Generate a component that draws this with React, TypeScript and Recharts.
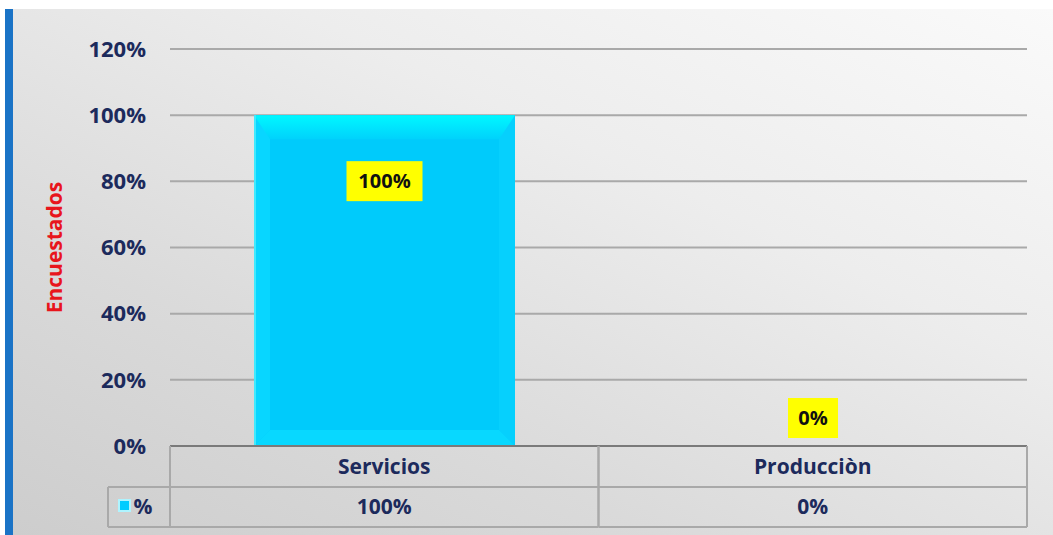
import { BarChart, Bar, XAxis, YAxis, CartesianGrid, LabelList } from 'recharts'

const categories = ['Servicios', 'Producciòn']
const values = [1, 0]
const yTicks = [0, 0.2, 0.4, 0.6, 0.8, 1, 1.2]
const seriesName = '%'

const data = categories.map((c, i) => ({ name: c, value: values[i] }))

const W = 1053
const H = 535
const margin = { top: 49, right: 26, bottom: 8, left: 0 }
const yAxisWidth = 170
const bandW = (W - margin.left - margin.right - yAxisWidth) / categories.length
const font = '"Open Sans", Lato, sans-serif'
const navy = '#1c2a5c'
const lineGray = '#a9a9a9'

const pct = (v: number) => `${Math.round(v * 100)}%`

function TableTick(props: any) {
  const { x, y, payload, index } = props
  const v = data.find((d) => d.name === payload.value)?.value ?? 0
  const left = x - bandW / 2
  return (
    <g>
      <line x1={left} y1={y} x2={left} y2={y + 81} stroke={lineGray} strokeWidth={2} />
      <line x1={left + bandW} y1={y} x2={left + bandW} y2={y + 81} stroke={lineGray} strokeWidth={2} />
      <line x1={left} y1={y + 41} x2={left + bandW} y2={y + 41} stroke={lineGray} strokeWidth={2} />
      <line x1={left} y1={y + 81} x2={left + bandW} y2={y + 81} stroke={lineGray} strokeWidth={2} />
      <text x={x} y={y + 28} textAnchor="middle" fontFamily={font} fontWeight="bold" fontSize={21} fill={navy}>
        {payload.value}
      </text>
      <text x={x} y={y + 68} textAnchor="middle" fontFamily={font} fontWeight="bold" fontSize={21} fill={navy}>
        {pct(v)}
      </text>
      {index === 0 && (
        <g>
          <line x1={left - 62} y1={y + 41} x2={left} y2={y + 41} stroke={lineGray} strokeWidth={2} />
          <line x1={left - 62} y1={y + 81} x2={left} y2={y + 81} stroke={lineGray} strokeWidth={2} />
          <line x1={left - 62} y1={y + 41} x2={left - 62} y2={y + 81} stroke={lineGray} strokeWidth={2} />
          <rect x={left - 51} y={y + 54} width={11} height={11} fill="#00ccff" stroke="#aef4ff" strokeWidth={2} />
          <text x={left - 27} y={y + 68} textAnchor="middle" fontFamily={font} fontWeight="bold" fontSize={21} fill={navy}>
            {seriesName}
          </text>
        </g>
      )}
    </g>
  )
}

function BevelBar(props: any) {
  const { x, y, width, height } = props
  if (!height || height <= 0) return <g />
  const b = 16
  return (
    <g>
      <defs>
        <linearGradient id="bevelTop" x1="0" y1="0" x2="0" y2="1">
          <stop offset="0%" stopColor="#00f8ff" />
          <stop offset="100%" stopColor="#00d2fc" />
        </linearGradient>
      </defs>
      <rect x={x} y={y} width={width} height={height} fill="#00cbfb" />
      <polygon points={`${x},${y} ${x + b},${y + b} ${x + b},${y + height - b} ${x},${y + height}`} fill="#08d6ff" />
      <polygon points={`${x + width},${y} ${x + width - b},${y + b} ${x + width - b},${y + height - b} ${x + width},${y + height}`} fill="#06d0fd" />
      <polygon points={`${x},${y + height} ${x + b},${y + height - b} ${x + width - b},${y + height - b} ${x + width},${y + height}`} fill="#08d8ff" />
      <polygon points={`${x},${y} ${x + width},${y} ${x + width - b},${y + b + 8} ${x + b},${y + b + 8}`} fill="url(#bevelTop)" />
      <rect x={x} y={y} width={2} height={height} fill="#40eaff" />
    </g>
  )
}

function BoxLabel(props: any) {
  const { x, y, width, height, value } = props
  const cx = x + width / 2
  const cy = height > 0 ? y + 66 : y - 28
  const text = pct(value)
  const bw = text.length * 13 + 24
  return (
    <g>
      <rect x={cx - bw / 2} y={cy - 20} width={bw} height={40} fill="#ffff00" />
      <text x={cx} y={cy + 7} textAnchor="middle" fontFamily={font} fontWeight="bold" fontSize={20} fill="#111">
        {text}
      </text>
    </g>
  )
}

export default function App() {
  return (
    <div style={{ position: 'absolute', left: 0, top: 0, width: W, height: H, background: '#fff', overflow: 'hidden' }}>
      <div
        style={{
          position: 'absolute',
          left: 13,
          top: 9,
          width: W - 13,
          height: H - 9,
          background: 'linear-gradient(205deg, #fafafa 0%, #ededed 35%, #dadada 70%, #cdcdcd 100%)',
        }}
      />
      <div style={{ position: 'absolute', left: 5, top: 9, width: 8, height: H - 9, background: '#1a73c6' }} />
      <div style={{ position: 'absolute', left: 0, top: 0 }}>
        <BarChart width={W} height={H} data={data} margin={margin}>
          <CartesianGrid horizontal vertical={false} stroke={lineGray} strokeWidth={2} />
          <XAxis
            dataKey="name"
            height={81}
            tickLine={false}
            tickSize={0}
            tickMargin={0}
            axisLine={{ stroke: '#7a7a7a', strokeWidth: 2 }}
            tick={<TableTick />}
            interval={0}
          />
          <YAxis
            width={yAxisWidth}
            domain={[0, 1.2]}
            ticks={yTicks}
            tickFormatter={pct}
            axisLine={false}
            tickLine={false}
            tickSize={0}
            tickMargin={24}
            tick={{ fill: navy, fontFamily: font, fontWeight: 'bold', fontSize: 22 }}
            label={{
              value: 'Encuestados',
              angle: -90,
              position: 'insideLeft',
              offset: 0,
              dx: 55,
              style: { fill: '#e8151c', fontFamily: font, fontWeight: 'bold', fontSize: 21, textAnchor: 'middle' },
            }}
          />
          <Bar dataKey="value" name={seriesName} barSize={261} shape={<BevelBar />} isAnimationActive={false}>
            <LabelList dataKey="value" content={<BoxLabel />} />
          </Bar>
        </BarChart>
      </div>
    </div>
  )
}
